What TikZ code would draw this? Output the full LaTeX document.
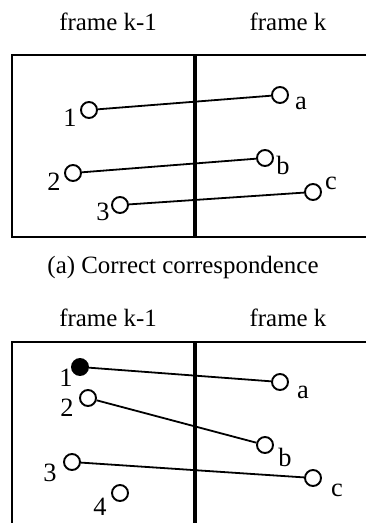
\documentclass[tikz,border=0pt]{standalone}
\usepackage{fontspec}
\setmainfont{Liberation Serif}
\begin{document}
\begin{tikzpicture}[x=1bp,y=-1bp,
  pt/.style={circle,draw,line width=1.9bp,minimum size=16bp,inner sep=0pt},
  ptf/.style={pt,fill=black},
  lbl/.style={inner sep=0pt,font=\fontsize{25}{30}\selectfont},
  nl/.style={inner sep=0pt,font=\fontsize{26.5}{30}\selectfont},
  frm/.style={line width=2.2bp},
  mid/.style={line width=3.8bp},
  con/.style={line width=1.8bp}]
\useasboundingbox (0,0) rectangle (366,523);
% top panel
\node[lbl] (t1) at (108,22) {frame k-1};
\node[lbl] (t2) at (288,22) {frame k};
\draw[frm] (366,55) -- (12,55) -- (12,237) -- (366,237);
\draw[mid] (195,55) -- (195,237);
\node[pt] (p1) at (89,110) {};
\node[pt] (pa) at (280,95) {};
\node[pt] (p2) at (73,173) {};
\node[pt] (pb) at (265,158) {};
\node[pt] (p3) at (120,205) {};
\node[pt] (pc) at (313,192) {};
\draw[con] (p1) -- (pa);
\draw[con] (p2) -- (pb);
\draw[con] (p3) -- (pc);
\node[nl] (l1) at (70,118) {1};
\node[nl] (la) at (301,103) {a};
\node[nl] (l2) at (54,182) {2};
\node[nl] (lb) at (283,165) {b};
\node[nl] (l3) at (103,212) {3};
\node[nl] (lc) at (331,183) {c};
\node[lbl] (cap) at (183,268) {(a) Correct correspondence};
% bottom panel
\node[lbl] (u1) at (108,318) {frame k-1};
\node[lbl] (u2) at (288,318) {frame k};
\draw[frm] (366,342) -- (12,342) -- (12,523);
\draw[mid] (195,342) -- (195,523);
\node[ptf] (q1) at (80,367) {};
\node[pt] (qa) at (280,382) {};
\node[pt] (q2) at (88,398) {};
\node[pt] (qb) at (265,445) {};
\node[pt] (q3) at (72,462) {};
\node[pt] (qc) at (313,478) {};
\node[pt] (q4) at (120,493) {};
\draw[con] (q1) -- (qa);
\draw[con] (q2) -- (qb);
\draw[con] (q3) -- (qc);
\node[nl] (m1) at (66,378) {1};
\node[nl] (ma) at (303,392) {a};
\node[nl] (m2) at (67,408) {2};
\node[nl] (mb) at (285,457) {b};
\node[nl] (m3) at (50,473) {3};
\node[nl] (mc) at (337,490) {c};
\node[nl] (m4) at (100,507) {4};
\end{tikzpicture}
\end{document}
